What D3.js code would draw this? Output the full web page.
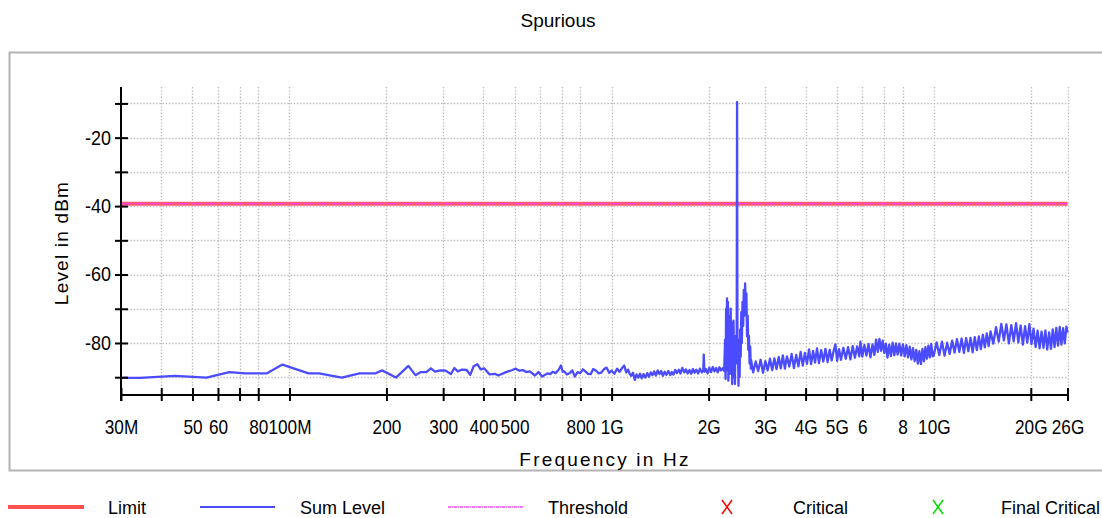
<!DOCTYPE html>
<html>
<head>
<meta charset="utf-8">
<script src="https://cdn.jsdelivr.net/npm/d3@7"></script>
<style>
    body { margin: 0; background: #fff; }
    text { font-family: "Liberation Sans", Arial, sans-serif; fill: #000; }
</style>
</head>
<body>
<svg id="chart" width="1102" height="518"></svg>
<script>
// ---- data (frequency in MHz, level in dBm) ----
var xTicks = [30, 40, 50, 60, 70, 80, 100, 200, 300, 400, 500, 600, 700, 800, 1000,
    2000, 3000, 4000, 5000, 6000, 7000, 8000, 10000, 20000, 26000];
var xTickLabels = ["30M", "", "50", "60", "", "80", "100M", "200", "300", "400", "500", "", "", "800", "1G",
    "2G", "3G", "4G", "5G", "6", "", "8", "10G", "20G", "26G"];
var yTicks = [-10, -20, -30, -40, -50, -60, -70, -80, -90];
var yTickLabels = ["", "-20", "", "-40", "", "-60", "", "-80", ""];

var limitLevel = -39.3;
var thresholdLevel = -39.3;

var lowBand = [[30, -90.2], [34.4, -90.2], [44.1, -89.6], [55.3, -90.1], [65, -88.5], [73, -88.9], [84.9, -88.9],
    [95.1, -86.3], [114.6, -88.9], [123.5, -88.9], [145.4, -90.1], [165, -88.9], [184.5, -88.9], [193.8, -88.0],
    [214, -90.1], [234, -86.7], [246, -89.4], [256, -88.5], [266, -88.5], [274.7, -87.4], [283, -88.4], [294, -88.0],
    [305.6, -88.1], [317, -89.1], [325, -87.3], [333, -88.3], [342, -87.8], [355, -87.9], [364, -89.3], [373, -86.8],
    [383, -86.2], [392, -87.7], [402, -87.4], [418, -89.2], [434, -89.0], [445, -89.5], [468, -88.6], [492, -87.9],
    [504, -87.5], [517, -88.1], [530, -87.9], [543, -88.5], [557, -88.3], [578, -89.5], [593, -88.5], [608, -89.8],
    [632, -88.9], [645, -89.1], [656, -88.4], [670, -88.8], [684, -87.9], [696, -86.6], [705, -88.4], [713, -88.3],
    [727, -89.2], [741, -88.8], [755, -88.0], [769, -89.8], [784, -88.5], [799, -88.8], [814, -87.7], [829, -88.3],
    [845, -89.0], [861, -89.1], [877, -87.6], [895, -88.1], [912, -88.9]];

var midBand = [[930, -88.6], [948, -87.6], [965, -87.2], [982, -88.7], [1000, -88.1], [1020, -89.0], [1040, -87.5],
    [1058, -88.4], [1076, -87.4], [1094, -86.6], [1110, -88.6], [1125, -87.8], [1136, -88.9], [1150, -89.6],
    [1165, -88.7], [1180, -90.8], [1195, -89.2], [1210, -90.1], [1225, -89.0], [1240, -90.3], [1256, -89.1],
    [1272, -90.1], [1290, -88.8], [1305, -89.9], [1322, -88.6], [1338, -89.4], [1355, -88.3], [1372, -89.5],
    [1390, -88.0], [1407, -89.1], [1425, -88.2], [1443, -89.6], [1461, -88.4], [1480, -89.3], [1500, -88.2],
    [1520, -89.4], [1537, -88.5], [1556, -89.2], [1576, -87.9], [1596, -88.8], [1616, -87.8], [1636, -88.9],
    [1657, -87.3], [1680, -88.6], [1700, -87.7], [1722, -88.9], [1744, -87.9], [1766, -89.0], [1788, -87.6],
    [1810, -88.7], [1833, -87.8], [1856, -88.9], [1880, -87.5], [1905, -88.6], [1925, -87.9], [1932, -83.4],
    [1940, -88.4], [1960, -87.6], [1985, -88.9], [2010, -87.2], [2035, -88.5], [2060, -87.0], [2085, -88.3],
    [2110, -87.3], [2135, -88.6], [2160, -87.1], [2185, -88.0], [2210, -87.4], [2235, -88.2]];

var spurBand = [[2250, -79], [2258, -90.5], [2266, -70], [2274, -85], [2281, -67], [2289, -88], [2296, -68],
    [2303, -91], [2310, -72], [2318, -83], [2326, -74], [2334, -89], [2342, -70], [2350, -86], [2358, -76],
    [2366, -92], [2374, -74], [2382, -88], [2390, -73.5], [2398, -90], [2406, -80], [2414, -92], [2424, -78],
    [2434, -86], [2444, -82], [2451, -9.6], [2458, -84], [2466, -79], [2476, -92.5], [2486, -80], [2496, -90],
    [2506, -76], [2516, -84], [2526, -71], [2536, -80], [2548, -68], [2560, -75], [2572, -64.5], [2584, -72],
    [2596, -62.6], [2608, -70], [2620, -65.5], [2632, -78], [2644, -72], [2656, -82], [2668, -78], [2680, -86],
    [2692, -81], [2704, -87.5]];

var upperBand = [[2710, -85.0], [2750, -88.6], [2800, -85.4], [2850, -88.2], [2900, -84.9], [2950, -88.7],
    [3000, -85.3], [3050, -88.0], [3100, -84.6], [3150, -87.9], [3200, -84.5], [3250, -87.6], [3300, -84.1],
    [3350, -87.4], [3400, -83.6], [3450, -87.5], [3500, -83.9], [3560, -86.9], [3620, -83.2], [3680, -87.3],
    [3740, -83.5], [3800, -86.8], [3860, -82.6], [3920, -86.6], [3980, -82.9], [4040, -86.1], [4100, -81.9],
    [4160, -86.2], [4220, -82.3], [4280, -85.7], [4340, -81.6], [4400, -85.9], [4470, -82.1], [4540, -85.4],
    [4610, -81.7], [4680, -85.6], [4750, -82.0], [4820, -85.1], [4890, -82.2], [4950, -80.4], [5010, -85.2],
    [5080, -81.8], [5150, -84.9], [5240, -81.4], [5330, -84.6], [5420, -81.2], [5510, -84.8], [5600, -80.9],
    [5690, -84.3], [5780, -81.0], [5870, -83.9], [5917, -79.6], [6000, -84.0], [6090, -80.6], [6180, -83.7],
    [6270, -80.3], [6360, -84.2], [6450, -80.4], [6540, -83.5], [6620, -79.0], [6700, -82.6], [6780, -78.8],
    [6860, -82.3], [6940, -79.3], [7020, -82.9], [7100, -80.2], [7180, -84.3], [7270, -80.5], [7360, -83.8],
    [7450, -79.9], [7540, -83.6], [7630, -80.1], [7720, -83.4], [7820, -80.2], [7920, -83.7], [8020, -80.4],
    [8120, -83.9], [8220, -80.6], [8320, -84.2], [8420, -81.1], [8520, -84.8], [8620, -81.5], [8720, -85.3],
    [8820, -82.0], [8920, -86.0], [9020, -82.4], [9120, -86.2], [9220, -81.7], [9320, -85.4], [9420, -81.2],
    [9520, -84.6], [9620, -80.8], [9720, -84.2], [9820, -80.3], [9920, -83.9]];

var topBand = [[10000, -83.6], [10200, -79.8], [10400, -83.5], [10600, -79.6], [10800, -83.7], [11000, -79.9],
    [11200, -83.2], [11400, -79.3], [11600, -82.8], [11800, -78.9], [12000, -82.6], [12200, -78.7], [12400, -82.9],
    [12600, -78.6], [12800, -82.4], [13000, -78.5], [13200, -82.7], [13400, -78.3], [13600, -82.1], [13800, -78.1],
    [14000, -81.8], [14200, -77.6], [14400, -81.3], [14600, -77.2], [14800, -80.9], [15000, -76.6], [15300, -80.2],
    [15600, -75.4], [15900, -79.6], [16200, -74.4], [16500, -79.2], [16800, -74.6], [17100, -80.1], [17400, -74.8],
    [17700, -79.5], [18000, -74.2], [18300, -79.8], [18600, -74.9], [18900, -80.5], [19200, -75.1], [19500, -79.9],
    [19800, -74.5], [20100, -80.3], [20400, -75.8], [20700, -81.2], [21000, -76.4], [21300, -81.6], [21600, -76.7],
    [21900, -81.4], [22200, -76.3], [22500, -81.9], [22800, -76.9], [23100, -81.7], [23400, -76.0], [23700, -81.2],
    [24000, -75.6], [24300, -80.8], [24600, -75.3], [24900, -80.5], [25200, -75.7], [25500, -80.1], [25800, -75.2],
    [26000, -77.0]];

var legendNames = ["Limit", "Sum Level", "Threshold", "Critical", "Final Critical"];

(function () {
    var sumLevel = lowBand.concat(midBand, spurBand, upperBand, topBand);
    var svg = d3.select("#chart");

    var x = d3.scaleLog().domain([30, 26000]).range([121, 1067.5]);
    var y = d3.scaleLinear().domain([-95.2, -5.2]).range([395, 87]);

    // outer frame (right edge runs off the picture)
    svg.append("rect")
        .attr("x", 9.5).attr("y", 52.5)
        .attr("width", 1110).attr("height", 418)
        .attr("fill", "none")
        .attr("stroke", "#b4b4b4")
        .attr("stroke-width", 2);

    svg.append("text")
        .attr("x", 558).attr("y", 27)
        .attr("text-anchor", "middle")
        .style("font-size", "19px")
        .text("Spurious");

    // grid
    var grid = svg.append("g").attr("stroke", "#b8b8b8").attr("stroke-width", 1.3)
        .attr("stroke-dasharray", "1.3,1.9");
    grid.selectAll(".hg").data(yTicks).enter().append("line")
        .attr("x1", x(30)).attr("x2", x(26000))
        .attr("y1", function (d) { return Math.round(y(d)) + 0.5; })
        .attr("y2", function (d) { return Math.round(y(d)) + 0.5; });
    grid.selectAll(".vg").data(xTicks.slice(1)).enter().append("line")
        .attr("y1", y(-5.2)).attr("y2", y(-95.2))
        .attr("x1", function (d) { return Math.round(x(d)) + 0.5; })
        .attr("x2", function (d) { return Math.round(x(d)) + 0.5; });

    // limit and threshold
    svg.append("line")
        .attr("x1", x(30)).attr("x2", x(26000))
        .attr("y1", y(limitLevel)).attr("y2", y(limitLevel))
        .attr("stroke", "#ff5a74").attr("stroke-width", 4);
    svg.append("line")
        .attr("x1", x(30)).attr("x2", x(26000))
        .attr("y1", y(thresholdLevel)).attr("y2", y(thresholdLevel))
        .attr("stroke", "#ff40e0").attr("stroke-width", 1.3)
        .attr("stroke-dasharray", "4,1,1,1");

    // sum level trace
    var line = d3.line()
        .x(function (d) { return x(d[0]); })
        .y(function (d) { return y(d[1]); });
    svg.append("path")
        .datum(sumLevel)
        .attr("d", line)
        .attr("fill", "none")
        .attr("stroke", "#4b4bff")
        .attr("stroke-width", 2.3)
        .attr("stroke-linejoin", "round");

    // axes
    var yAxis = svg.append("g")
        .attr("transform", "translate(121,0)")
        .call(d3.axisLeft(y).tickValues(yTicks)
            .tickFormat(function (d, i) { return yTickLabels[i]; }).tickSizeOuter(0));
    yAxis.select(".domain").remove();
    yAxis.selectAll(".tick line").attr("x1", 7).attr("x2", -6).attr("stroke", "#000").attr("stroke-width", 2);
    yAxis.selectAll(".tick text").attr("x", -10 / 0.9).attr("transform", "scale(0.9,1)")
        .style("font-size", "20px").style("font-family", null);
    yAxis.append("line").attr("x1", 0).attr("x2", 0).attr("y1", 87).attr("y2", 401)
        .attr("stroke", "#000").attr("stroke-width", 2);

    var xAxis = svg.append("g")
        .attr("transform", "translate(0,395)")
        .call(d3.axisBottom(x).tickValues(xTicks)
            .tickFormat(function (d, i) { return xTickLabels[i]; }).tickSizeOuter(0));
    xAxis.select(".domain").remove();
    xAxis.selectAll(".tick line").attr("y1", -7).attr("y2", 6).attr("stroke", "#000").attr("stroke-width", 2);
    xAxis.selectAll(".tick text").attr("y", 25).attr("dy", "0.71em").attr("transform", "scale(0.86,1)")
        .style("font-size", "20px").style("font-family", null);
    xAxis.append("line").attr("x1", 121).attr("x2", 1068.5).attr("y1", 0).attr("y2", 0)
        .attr("stroke", "#000").attr("stroke-width", 2);
    svg.selectAll(".tick text").attr("fill", "#000");

    // axis titles
    svg.append("text")
        .attr("transform", "translate(68,243) rotate(-90)")
        .attr("text-anchor", "middle")
        .style("font-size", "19px")
        .style("letter-spacing", "1.2px")
        .text("Level in dBm");
    svg.append("text")
        .attr("x", 605).attr("y", 466)
        .attr("text-anchor", "middle")
        .style("font-size", "19px")
        .style("letter-spacing", "2.2px")
        .text("Frequency in Hz");

    // legend
    var ly = 507;
    var legend = svg.append("g");
    legend.append("line").attr("x1", 8).attr("x2", 84).attr("y1", ly).attr("y2", ly)
        .attr("stroke", "#ff5050").attr("stroke-width", 4);
    legend.append("line").attr("x1", 200).attr("x2", 275).attr("y1", ly).attr("y2", ly)
        .attr("stroke", "#4b4bff").attr("stroke-width", 2);
    legend.append("line").attr("x1", 448).attr("x2", 524).attr("y1", ly).attr("y2", ly)
        .attr("stroke", "#ff40ff").attr("stroke-width", 1.3).attr("stroke-dasharray", "3,1,1,1");
    [[727, "#ff0000"], [938, "#00e000"]].forEach(function (c) {
        legend.append("path")
            .attr("d", "M" + (c[0] - 5) + "," + (ly - 7) + "L" + (c[0] + 5) + "," + (ly + 7) +
                "M" + (c[0] + 5) + "," + (ly - 7) + "L" + (c[0] - 5) + "," + (ly + 7))
            .attr("stroke", c[1]).attr("stroke-width", 1.5).attr("fill", "none");
    });
    var textX = [108, 300, 548, 793, 1001];
    legend.selectAll(".lt").data(legendNames).enter().append("text")
        .attr("x", function (d, i) { return textX[i]; })
        .attr("y", ly + 7)
        .style("font-size", "18px")
        .text(function (d) { return d; });
})();
</script>
</body>
</html>
